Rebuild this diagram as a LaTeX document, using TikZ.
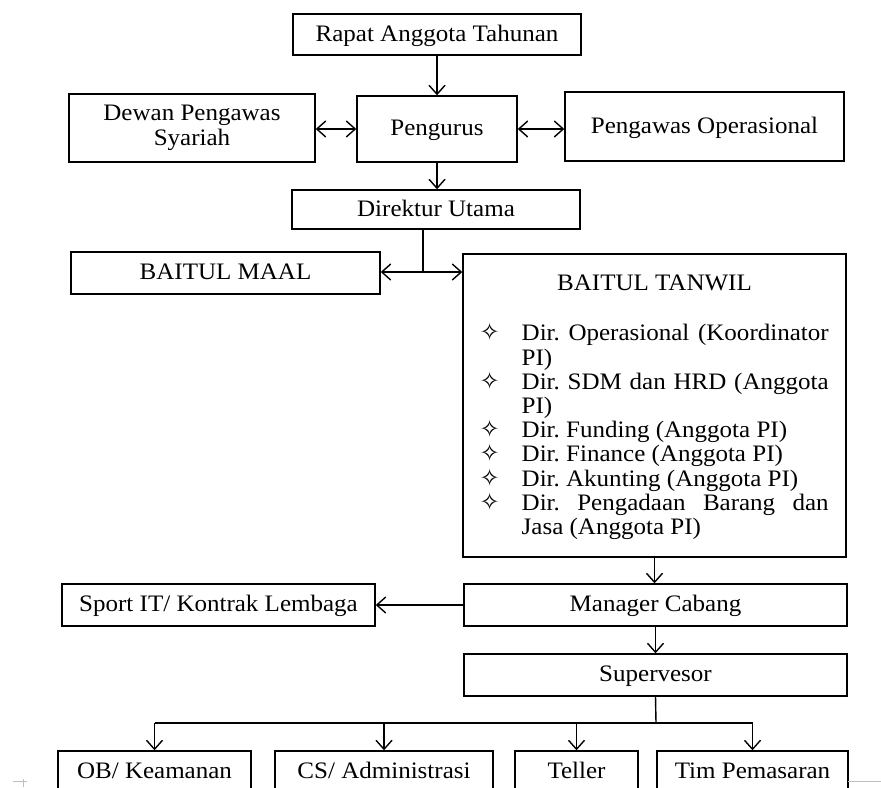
\documentclass[tikz,border=0pt]{standalone}
\usepackage{fontspec}
\setmainfont[FakeStretch=1.06]{Liberation Serif}
\newfontfamily\starfont{DejaVu Sans}
\usetikzlibrary{arrows.meta}
\frenchspacing
\newcommand{\tanwilitem}[1]{\par\noindent\hangindent=20pt\hangafter=1\makebox[20pt][l]{\makebox[8pt]{\smash{\starfont\fontsize{12pt}{12pt}\selectfont ✧}}}#1\par}

\begin{document}
\begin{tikzpicture}[x=0.5pt,y=-0.5pt,line width=0.7pt,
    font=\fontsize{11.8pt}{13.4pt}\selectfont,
    >={Straight Barb[length=4.5pt,width=8pt]},
    box/.style={draw,rectangle,inner sep=2pt},
    linebox/.style={box,text height=9.2pt,text depth=2.6pt}]
    \useasboundingbox (0,0) rectangle (881,787);
    \clip (0,0) rectangle (881,787);
    \node[linebox,minimum width=144pt,minimum height=20.5pt] (rapat) at (437,34.5) {Rapat Anggota Tahunan};
    \node[linebox,minimum width=80pt,minimum height=33pt] (pengurus) at (437,129) {Pengurus};
    \node[box,minimum width=123pt,minimum height=34pt,align=center,font=\fontsize{11.8pt}{11pt}\selectfont] (dewan) at (192,128) {\strut Dewan Pengawas\\Syariah};
    \node[linebox,minimum width=139.5pt,minimum height=34.5pt] (pengop) at (704.5,126.5) {Pengawas Operasional};
    \node[linebox,minimum width=144pt,minimum height=19.5pt] (direktur) at (436,209.5) {Direktur Utama};
    \node[linebox,minimum width=154.5pt,minimum height=21pt] (maal) at (225.5,273) {BAITUL MAAL};
    \node[box,minimum width=191.5pt,minimum height=151.5pt] (tanwil) at (654.5,405.5) {};
    \node (tanwiltitle) at (654.5,283) {BAITUL TANWIL};
    \node[anchor=north west,inner sep=0pt,text width=173.5pt,align=justify] (tanwillist) at (481,316) {%
        \baselineskip=12.1pt
        \tanwilitem{Dir. Operasional (Koordinator\linebreak PI)}
        \tanwilitem{Dir. SDM dan HRD (Anggota\linebreak PI)}
        \tanwilitem{Dir. Funding (Anggota PI)}
        \tanwilitem{Dir. Finance (Anggota PI)}
        \tanwilitem{Dir. Akunting (Anggota PI)}
        \tanwilitem{Dir. Pengadaan Barang dan\linebreak Jasa (Anggota PI)}};
    \node[linebox,minimum width=191.5pt,minimum height=21pt] (manager) at (655.5,605) {Manager Cabang};
    \node[linebox,minimum width=156.5pt,minimum height=21pt] (sport) at (218.5,605) {Sport IT/ Kontrak Lembaga};
    \node[linebox,minimum width=191.5pt,minimum height=21pt] (super) at (655.5,675) {Supervesor};
    \node[linebox,minimum width=96.5pt,minimum height=21pt] (ob) at (154.5,772) {OB/ Keamanan};
    \node[linebox,minimum width=109pt,minimum height=21pt] (cs) at (384,772) {CS/ Administrasi};
    \node[linebox,minimum width=61.5pt,minimum height=21pt] (teller) at (576.5,772) {Teller};
    \node[linebox,minimum width=95.5pt,minimum height=21pt] (tim) at (752.5,772) {Tim Pemasaran};
    \coordinate (fork) at (423,272);
    \coordinate (split) at (656,723);
    \draw[->] (rapat) -- (pengurus);
    \draw[<->] (pengurus.west) -- (pengurus.west -| dewan.east);
    \draw[<->] (pengurus.east) -- (pengurus.east -| pengop.west);
    \draw[->] (pengurus.south) -- (pengurus.south |- direktur.north);
    \draw (fork |- direktur.south) -- (fork);
    \draw[->] (fork) -- (fork -| maal.east);
    \draw[->] (fork) -- (fork -| tanwil.west);
    \draw[->] (tanwil.south) -- (tanwil.south |- manager.north);
    \draw[->] (manager) -- (sport);
    \draw[->] (manager) -- (super);
    \draw (super.south) -- (split);
    \draw (split -| ob.north) -- (split -| tim.north);
    \draw[->] (split -| ob.north) -- (ob);
    \draw[->] (split -| cs.north) -- (cs);
    \draw[->] (split -| teller.north) -- (teller);
    \draw[->] (split -| tim.north) -- (tim);
    \draw[gray!50,line width=0.5pt] (13,781) -- (27,781) (23,779) -- (23,787) (848,781) -- (881,781);
\end{tikzpicture}
\end{document}
